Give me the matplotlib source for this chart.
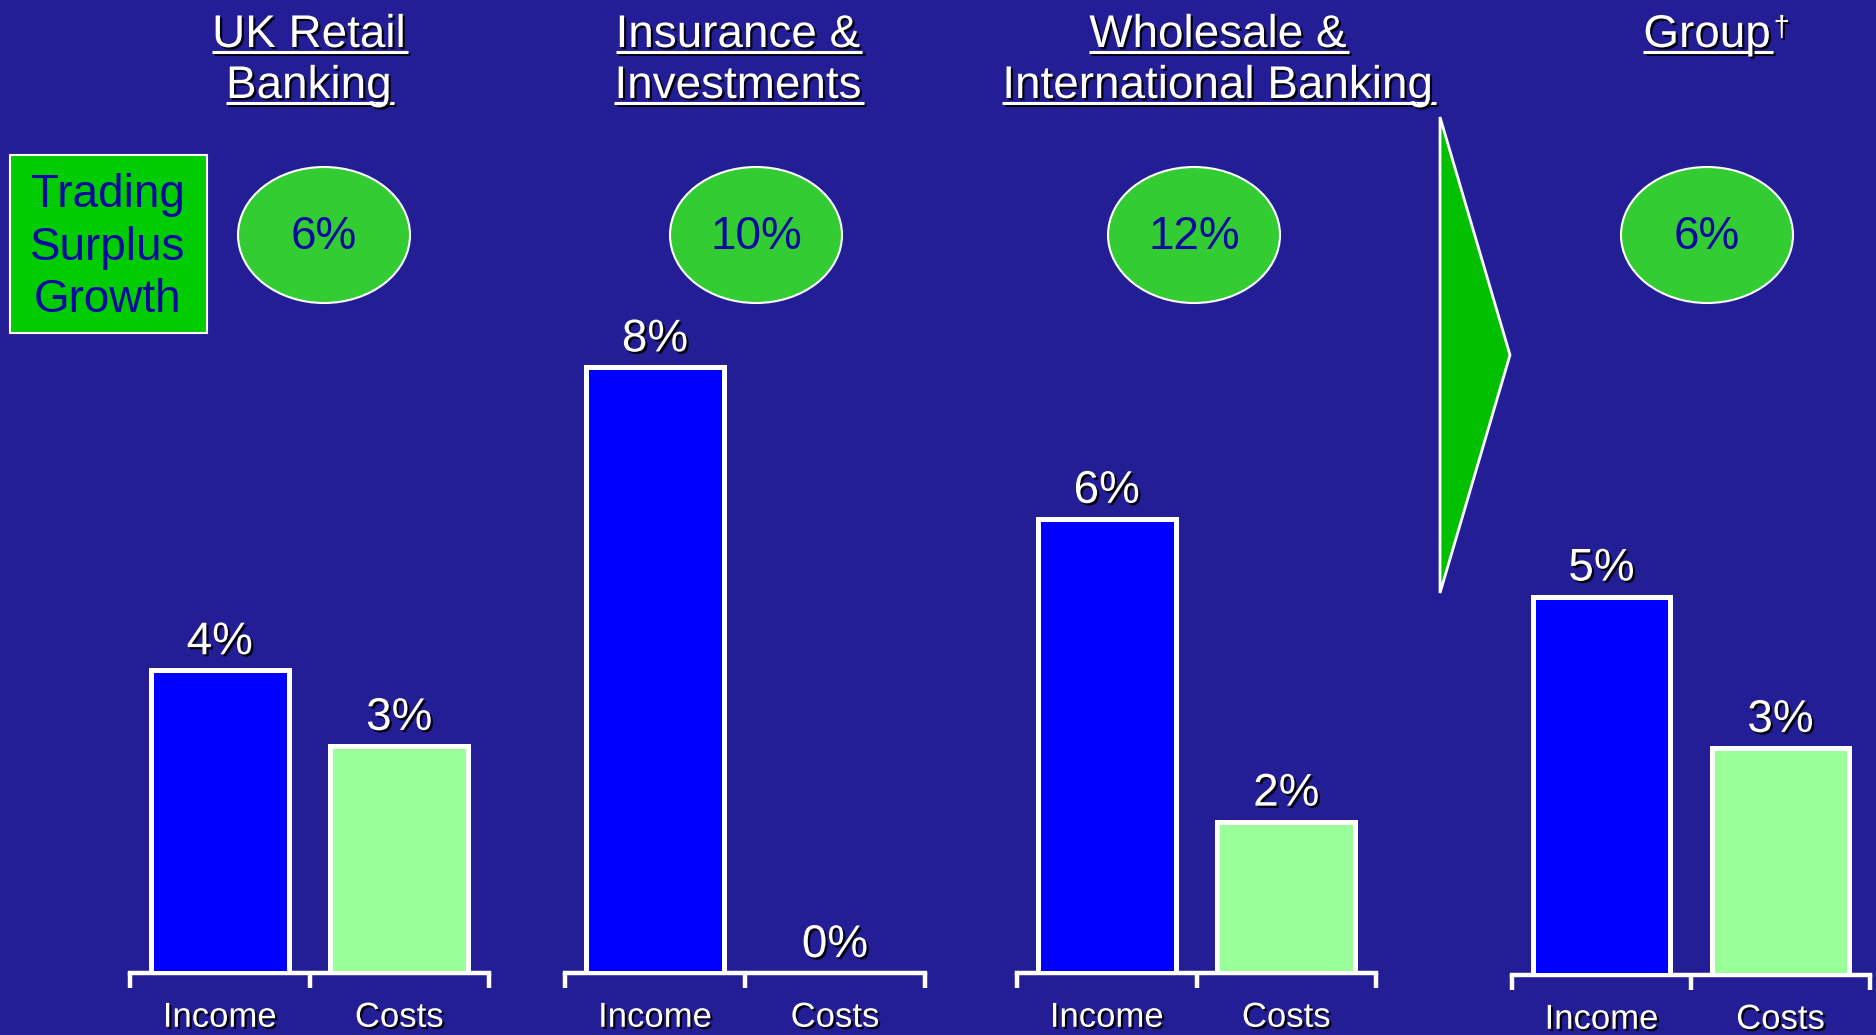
import matplotlib.pyplot as plt
import matplotlib.patheffects as pe
from matplotlib.patches import Ellipse, Rectangle, Polygon

plt.rcParams['font.family'] = ['Liberation Sans', 'DejaVu Sans']

# divisions and their growth rates (%)
segments = [['UK Retail', 'Banking'],
            ['Insurance &', 'Investments'],
            ['Wholesale &', 'International Banking'],
            ['Group']]
categories = ['Income', 'Costs']
income = [4, 8, 6, 5]
costs = [3, 0, 2, 3]
surplus = [6, 10, 12, 6]

BG = '#241e96'
INCOME_C = '#0000ff'
COSTS_C = '#99ff99'
OVAL_C = '#33cc33'
BOX_C = '#00cc00'
ARROW_C = '#00c000'
NAVY = '#0a0aa0'

W, H = 1876, 1035
PX_PER_PCT = 75.7

fig = plt.figure(figsize=(W / 100, H / 100), dpi=100)
fig.patch.set_facecolor(BG)

# full-figure layer in pixel units for headings, ovals and the arrow
ov = fig.add_axes([0, 0, 1, 1])
ov.set_xlim(0, W)
ov.set_ylim(H, 0)
ov.axis('off')
ov.patch.set_alpha(0)

shadow = [pe.withSimplePatchShadow(offset=(1.6, -1.6), shadow_rgbFace='black', alpha=0.9)]
line_shadow = [pe.SimpleLineShadow(offset=(1.6, -1.6), shadow_color='black', alpha=0.9), pe.Normal()]

# panel geometry: left / right of the bracket and baseline (pixels)
panel_x = [(130, 489), (565, 925), (1017, 1376), (1512, 1870)]
panel_base = [973, 973, 973, 975]
title_x = [309, 738, 1218, 1707]
oval_x = [324, 756, 1194, 1707]

for i in range(4):
    x0, x1 = panel_x[i]
    base = panel_base[i]
    ax = fig.add_axes([x0 / W, (H - base) / H, (x1 - x0) / W, base / H])
    ax.patch.set_visible(False)
    ax.set_xlim(-0.5, 1.5)
    ax.set_ylim(0, base / PX_PER_PCT)
    vals = [income[i], costs[i]]
    ax.bar([0, 1], vals, width=0.77, color=[INCOME_C, COSTS_C],
           edgecolor='white', linewidth=3.6, zorder=3)
    for xi, v in enumerate(vals):
        ax.annotate(f'{v}%', xy=(xi, v), xytext=(0, 11.5), textcoords='offset points',
                    ha='center', va='baseline', color='white', fontsize=33,
                    path_effects=shadow, annotation_clip=False)
    # bracket axis
    for s in ['left', 'right', 'top']:
        ax.spines[s].set_visible(False)
    ax.spines['bottom'].set_color('white')
    ax.spines['bottom'].set_linewidth(3.2)
    ax.set_yticks([])
    ax.set_xticks([-0.5, 0.5, 1.5], labels=['', '', ''])
    ax.tick_params(axis='x', which='major', direction='out', length=10.5, width=3.2, color='white')
    ax.set_xticks([0, 1], labels=categories, minor=True)
    ax.tick_params(axis='x', which='minor', length=0, pad=20, labelsize=25, labelcolor='white')
    for lab in ax.get_xticklabels(minor=True):
        lab.set_path_effects(shadow)

# underlined headings
heads = []
for i, lines in enumerate(segments):
    for j, line in enumerate(lines):
        y = 47 + 51 * j
        t = ov.text(title_x[i], y, line, ha='center', va='baseline', color='white',
                    fontsize=33, path_effects=shadow)
        heads.append((t, y))

fig.canvas.draw()
r = fig.canvas.get_renderer()
for t, y in heads:
    bb = t.get_window_extent(r)
    ov.plot([bb.x0, bb.x1 + 2], [y + 5, y + 5], color='white', lw=2.2,
            solid_capstyle='butt', path_effects=line_shadow)
    if t.get_text() == 'Group':
        ov.text(bb.x1 + 3, 36, '\u2020', ha='left', va='baseline', color='white',
                fontsize=21, path_effects=shadow)

# "Trading Surplus Growth" box
ov.add_patch(Rectangle((10, 155), 197, 178, facecolor=BOX_C, edgecolor='white', lw=1.5))
for j, word in enumerate(['Trading', 'Surplus', 'Growth']):
    ov.text(108, 207 + 52.5 * j, word, ha='center', va='baseline', color=NAVY, fontsize=33)

# surplus growth ovals
for cx, v in zip(oval_x, surplus):
    ov.add_patch(Ellipse((cx, 235), 172, 136, facecolor=OVAL_C, edgecolor='white', lw=1.5))
    ov.text(cx, 249, f'{v}%', ha='center', va='baseline', color=NAVY, fontsize=33)

# arrow pointing to the group total
ov.add_patch(Polygon([(1440, 117), (1510, 355), (1440, 593)], closed=True,
                     facecolor=ARROW_C, edgecolor='white', lw=2))

plt.savefig('out.png', dpi=100, facecolor=fig.get_facecolor())
